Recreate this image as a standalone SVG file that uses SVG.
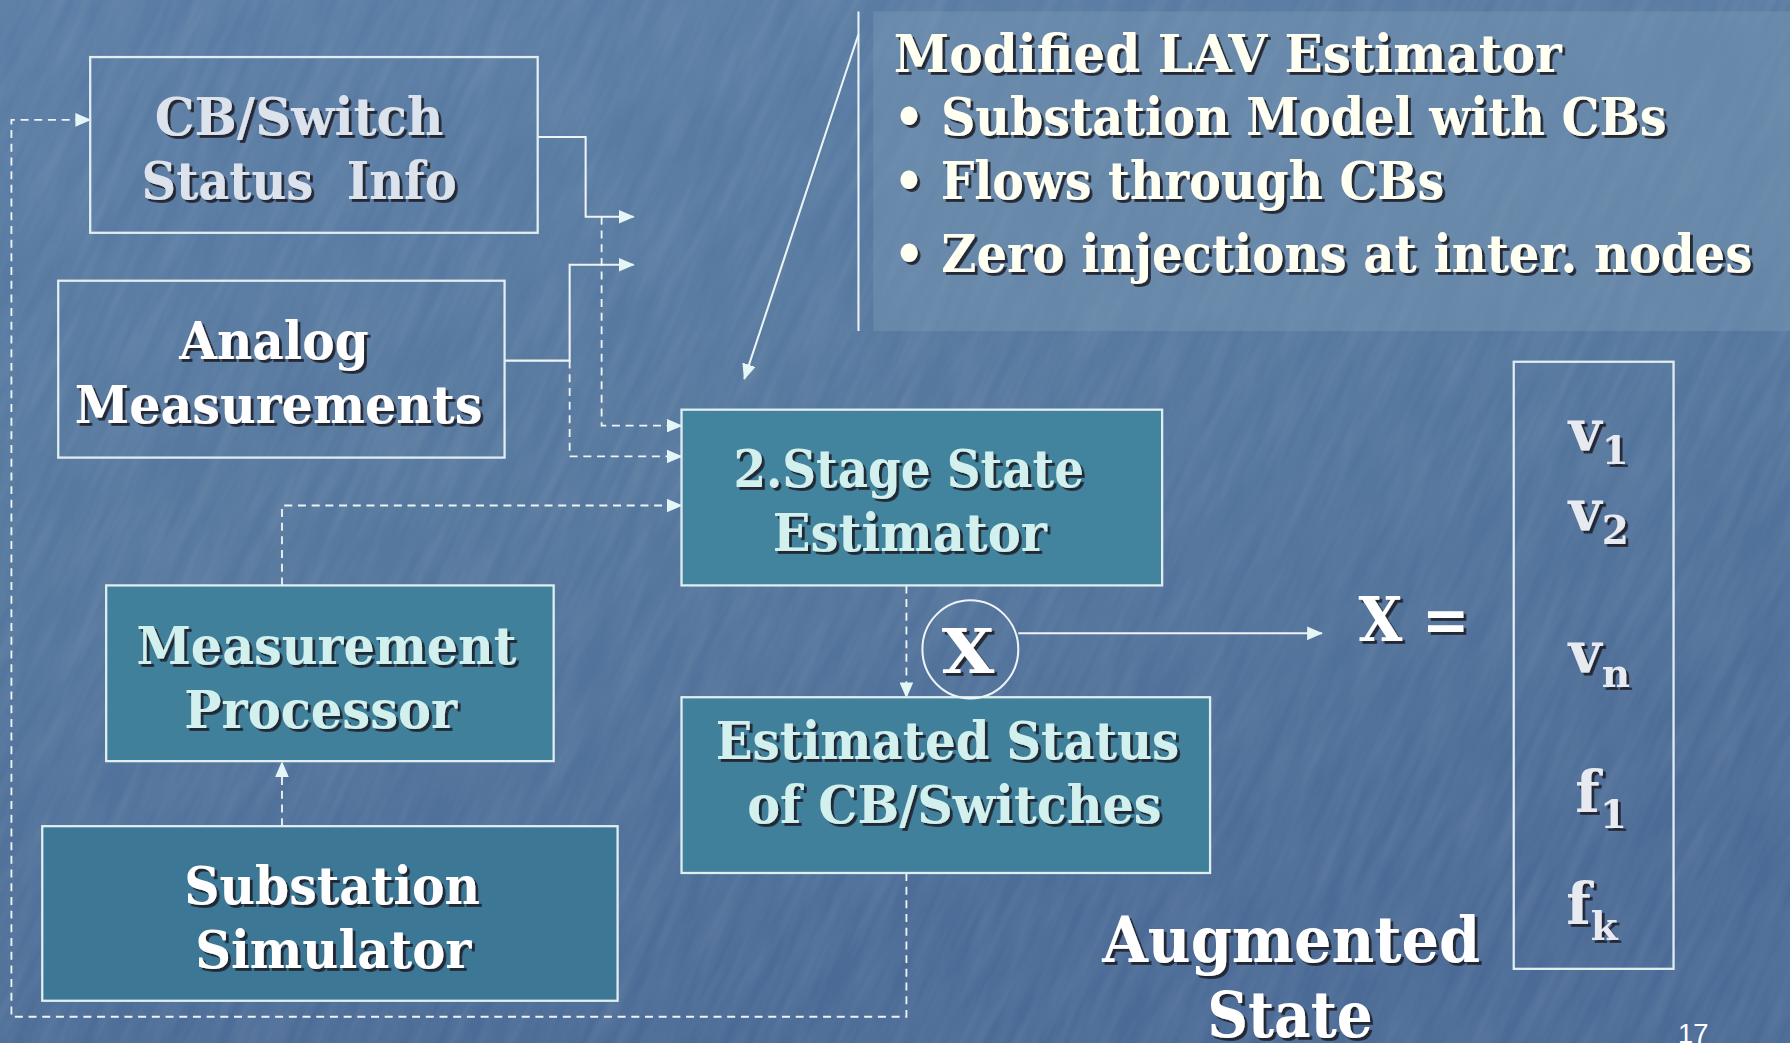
<svg xmlns="http://www.w3.org/2000/svg" width="1790" height="1043" viewBox="0 0 1790 1043">
<defs>
<linearGradient id="bg" x1="0" y1="0" x2="0.3" y2="1">
<stop offset="0" stop-color="#5b7da5"/>
<stop offset="0.5" stop-color="#56789e"/>
<stop offset="1" stop-color="#4b6b96"/>
</linearGradient>
<filter id="tex" x="0" y="0" width="100%" height="100%">
<feTurbulence type="fractalNoise" baseFrequency="0.01 0.08" numOctaves="3" seed="4" result="n"/>
<feColorMatrix type="matrix" values="0 0 0 0 1  0 0 0 0 1  0 0 0 0 1  0 0 0 0.45 -0.12"/>
</filter>
<filter id="sh" x="-5%" y="-20%" width="115%" height="150%">
<feDropShadow dx="2.5" dy="2.5" stdDeviation="0.6" flood-color="#1a1f2a" flood-opacity="0.9"/>
</filter>
<marker id="ah" viewBox="0 0 14 12" refX="13" refY="6" markerWidth="14" markerHeight="12" markerUnits="userSpaceOnUse" orient="auto">
<path d="M0,0 L14,6 L0,12 Z" fill="#e4f6f6"/>
</marker>
<style>
.t{font-family:"DejaVu Serif","Liberation Serif",serif;font-weight:bold;}
.box{stroke:#e0eef2;stroke-width:2;}
.plain{fill:none;}
.solid{fill:none;stroke:#eef4f6;stroke-width:1.8;}
.dash{fill:none;stroke:#eef4f6;stroke-width:1.6;stroke-dasharray:7 5;}
.cream{fill:#fffff2;}
.cyan{fill:#d2f0ee;}
.grey{fill:#dde3ec;}
.white{fill:#ffffff;}
</style>
</defs>
<rect x="0" y="0" width="1790" height="1043" fill="url(#bg)"/>
<rect x="-700" y="-700" width="3200" height="2450" transform="rotate(-65 895 521)" filter="url(#tex)" opacity="0.28"/>
<g transform="scale(1.14158 1.14114)">
<g id="lav-panel">
<rect x="765" y="10" width="803" height="280" fill="#7a98b6" opacity="0.45"/>
<line x1="752" y1="10" x2="752" y2="290" stroke="#eef4f6" stroke-width="1.8"/>
<g class="t cream" filter="url(#sh)" font-size="45">
<text x="783" y="63" textLength="585" lengthAdjust="spacingAndGlyphs">Modified LAV Estimator</text>
<text x="783" y="118" textLength="677" lengthAdjust="spacingAndGlyphs">• Substation Model with CBs</text>
<text x="783" y="174" textLength="482" lengthAdjust="spacingAndGlyphs">• Flows through CBs</text>
<text x="783" y="238" textLength="752" lengthAdjust="spacingAndGlyphs">• Zero injections at inter. nodes</text>
</g>
</g>
<g id="connectors">
<path class="solid" d="M752,30 L652,332" marker-end="url(#ah)"/>
<path class="solid" d="M471,120 H513 V190 H555" marker-end="url(#ah)"/>
<path class="solid" d="M442,316 H499 V232 H555" marker-end="url(#ah)"/>
<path class="dash" d="M527,190 V373 H597" marker-end="url(#ah)"/>
<path class="dash" d="M499,316 V400 H597" marker-end="url(#ah)"/>
<path class="dash" d="M247,513 V443 H597" marker-end="url(#ah)"/>
<path class="dash" d="M247,724 V668" marker-end="url(#ah)"/>
<path class="dash" d="M794,513 V611" marker-end="url(#ah)"/>
<path class="dash" d="M794,765 V891 H10 V105 H79" marker-end="url(#ah)"/>
<path class="solid" d="M892,555 H1158" marker-end="url(#ah)"/>
</g>
<g id="cb-switch">
<rect class="box plain" x="79" y="50" width="392" height="154"/>
<g class="t grey" filter="url(#sh)" font-size="45" text-anchor="middle">
<text x="262" y="118" textLength="253" lengthAdjust="spacingAndGlyphs">CB/Switch</text>
<text x="262" y="174" textLength="276" lengthAdjust="spacingAndGlyphs" xml:space="preserve">Status  Info</text>
</g>
</g>
<g id="analog">
<rect class="box plain" x="51" y="246" width="391" height="155"/>
<g class="t white" filter="url(#sh)" font-size="45" text-anchor="middle">
<text x="240" y="315" textLength="166" lengthAdjust="spacingAndGlyphs">Analog</text>
<text x="244" y="371" textLength="357" lengthAdjust="spacingAndGlyphs">Measurements</text>
</g>
</g>
<g id="stage2">
<rect class="box" x="597" y="359" width="421" height="154" fill="#42849d"/>
<g class="t cyan" filter="url(#sh)" font-size="45" text-anchor="middle">
<text x="796" y="427" textLength="307" lengthAdjust="spacingAndGlyphs">2.Stage State</text>
<text x="797" y="483" textLength="240" lengthAdjust="spacingAndGlyphs">Estimator</text>
</g>
</g>
<g id="meas-proc">
<rect class="box" x="93" y="513" width="392" height="154" fill="#40809b"/>
<g class="t cyan" filter="url(#sh)" font-size="45" text-anchor="middle">
<text x="286" y="582" textLength="333" lengthAdjust="spacingAndGlyphs">Measurement</text>
<text x="281" y="638" textLength="239" lengthAdjust="spacingAndGlyphs">Processor</text>
</g>
</g>
<g id="simulator">
<rect class="box" x="37" y="724" width="504" height="153" fill="#3c7796"/>
<g class="t white" filter="url(#sh)" font-size="45" text-anchor="middle">
<text x="291" y="792" textLength="259" lengthAdjust="spacingAndGlyphs">Substation</text>
<text x="292" y="848" textLength="242" lengthAdjust="spacingAndGlyphs">Simulator</text>
</g>
</g>
<g id="est-status">
<rect class="box" x="597" y="611" width="463" height="154" fill="#40809b"/>
<g class="t cyan" filter="url(#sh)" font-size="45" text-anchor="middle">
<text x="830" y="665" textLength="406" lengthAdjust="spacingAndGlyphs">Estimated Status</text>
<text x="836" y="721" textLength="363" lengthAdjust="spacingAndGlyphs">of CB/Switches</text>
</g>
</g>
<g id="x-circle">
<ellipse cx="850" cy="569" rx="42" ry="43" fill="none" stroke="#eef4f6" stroke-width="1.8"/>
<text class="t white" filter="url(#sh)" x="848" y="590" font-size="54" text-anchor="middle" textLength="46" lengthAdjust="spacingAndGlyphs">X</text>
</g>
<g id="x-equals">
<text class="t white" filter="url(#sh)" x="1190" y="562" font-size="54" textLength="97" lengthAdjust="spacingAndGlyphs" xml:space="preserve">X =</text>
</g>
<g id="vector">
<rect class="box plain" x="1326" y="317" width="140" height="532"/>
<g class="t" filter="url(#sh)" fill="#e8eaf2" font-size="50">
<text x="1374" y="395">v<tspan font-size="34" dy="12">1</tspan></text>
<text x="1374" y="465">v<tspan font-size="34" dy="12">2</tspan></text>
<text x="1374" y="590">v<tspan font-size="34" dy="12">n</tspan></text>
<text x="1380" y="712">f<tspan font-size="34" dy="14">1</tspan></text>
<text x="1372" y="810">f<tspan font-size="34" dy="14">k</tspan></text>
</g>
</g>
<g id="augmented">
<g class="t white" filter="url(#sh)" font-size="56" text-anchor="middle">
<text x="1131" y="843" textLength="331" lengthAdjust="spacingAndGlyphs">Augmented</text>
<text x="1130" y="909" textLength="145" lengthAdjust="spacingAndGlyphs">State</text>
</g>
</g>
<text x="1470" y="914" font-family="Liberation Sans, Arial, sans-serif" font-size="24" fill="#ffffff">17</text>
</g>
</svg>
